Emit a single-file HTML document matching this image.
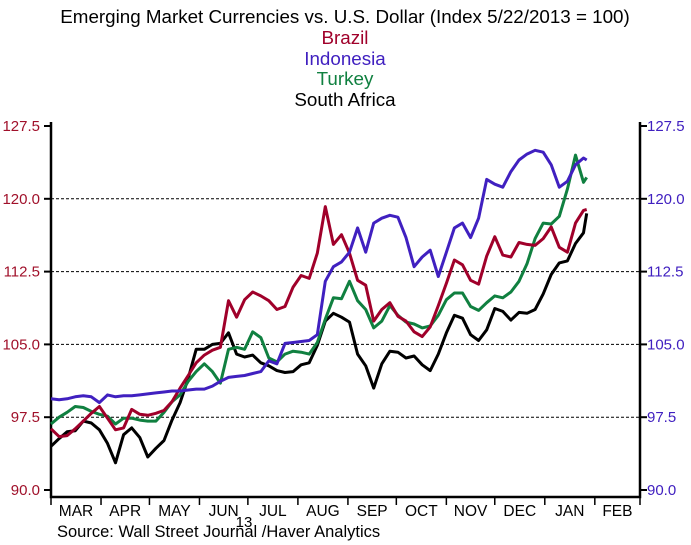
<!DOCTYPE html>
<html><head><meta charset="utf-8"><style>
body{margin:0;background:#fff;}
svg{display:block;font-family:"Liberation Sans",sans-serif;}
</style></head><body>
<svg id="chart" width="691" height="545" viewBox="0 0 691 545">
<text x="345" y="23" text-anchor="middle" font-size="18.8" fill="#000">Emerging Market Currencies vs. U.S. Dollar (Index 5/22/2013 = 100)</text>
<text x="345" y="44" text-anchor="middle" font-size="18.8" fill="#a0002a">Brazil</text>
<text x="345" y="65" text-anchor="middle" font-size="18.8" fill="#4020c0">Indonesia</text>
<text x="345" y="85" text-anchor="middle" font-size="18.8" fill="#108040">Turkey</text>
<text x="345" y="106" text-anchor="middle" font-size="18.8" fill="#000">South Africa</text>
<g id="grid"></g>
<g id="axes"></g>
<g id="series"></g>
<text x="244" y="527" text-anchor="middle" font-size="15">13</text>
<text x="57" y="537" font-size="16.5">Source:  Wall Street Journal /Haver Analytics</text>
</svg>
<script>
const yTicks=[90.0,97.5,105.0,112.5,120.0,127.5];
const yTickLabels=["90.0","97.5","105.0","112.5","120.0","127.5"];
const gridValues=[97.5,105.0,112.5,120.0];
const months=["MAR","APR","MAY","JUN","JUL","AUG","SEP","OCT","NOV","DEC","JAN","FEB"];
const monthStarts=[0,31,61,92,122,153,184,214,245,275,306,337,365];
const days=[0,5,10,15,20,25,30,35,40,45,
50,55,60,65,70,75,80,85,90,95,
100,105,110,115,120,125,130,135,140,145,
150,155,160,165,170,175,180,185,190,195,
200,205,210,215,220,225,230,235,240,245,
250,255,260,265,270,275,280,285,290,295,
300,305,310,315,320,325,330,332];
const brazil=[96.3,95.5,95.6,96.3,97.1,97.9,98.6,97.4,96.2,96.4,
98.3,97.8,97.7,97.9,98.2,99.1,100.5,101.8,103.1,103.9,
104.4,104.7,109.5,107.8,109.6,110.4,110.0,109.5,108.6,108.9,
110.9,112.1,111.8,114.4,119.2,115.3,116.3,114.4,111.6,111.1,
107.4,108.6,109.3,107.9,107.4,106.3,105.8,106.8,109.0,111.3,
113.7,113.2,111.6,111.2,114.1,116.1,114.2,114.0,115.5,115.3,
115.2,115.9,117.1,115.0,114.5,117.5,118.8,118.9];
const indonesia=[99.4,99.3,99.4,99.6,99.7,99.6,99.0,99.8,99.6,99.7,
99.7,99.8,99.9,100.0,100.1,100.2,100.2,100.3,100.4,100.4,
100.7,101.2,101.6,101.7,101.8,102.0,102.2,103.3,103.0,105.1,
105.2,105.3,105.4,106.0,111.5,113.0,113.5,114.5,117.0,114.5,
117.5,118.0,118.3,118.1,116.0,113.0,114.0,114.7,112.0,114.5,
117.0,117.5,116.0,118.0,122.0,121.5,121.2,122.8,124.0,124.6,
125.0,124.8,123.5,121.2,121.8,123.5,124.2,124.0];
const turkey=[96.8,97.5,98.0,98.6,98.5,98.1,97.8,97.6,96.8,97.4,
97.4,97.2,97.1,97.1,98.0,99.1,99.8,101.2,102.2,103.0,
102.2,101.0,104.5,104.7,104.5,106.3,105.7,103.6,103.2,104.0,
104.3,104.2,104.0,105.2,107.6,109.8,109.7,111.5,109.5,108.6,
106.7,107.4,109.0,108.0,107.3,107.1,106.7,106.9,108.0,109.6,
110.3,110.3,108.9,108.5,109.3,110.0,109.8,110.4,111.5,113.3,
115.9,117.5,117.4,118.2,121.0,124.5,121.7,122.2];
const southAfrica=[94.5,95.3,96.0,96.1,97.1,96.9,96.2,94.8,92.8,95.7,
96.4,95.4,93.4,94.3,95.1,97.2,99.0,101.5,104.5,104.5,
105.0,105.1,106.2,104.0,103.7,103.9,103.1,102.8,102.3,102.1,
102.2,102.9,103.1,104.9,107.4,108.2,107.8,107.3,104.0,102.8,
100.5,103.0,104.3,104.2,103.6,103.8,102.9,102.3,104.0,106.2,
108.0,107.7,106.0,105.4,106.5,108.7,108.4,107.5,108.3,108.2,
108.6,110.2,112.2,113.4,113.6,115.4,116.5,118.5];

const NS="http://www.w3.org/2000/svg";
const L=51,R=640,T=122,B=497;
function xs(d){return L+(d/365)*(R-L);}
function ys(v){return 490-(v-90)/37.5*364;}
function mk(tag,attrs,parent){const e=document.createElementNS(NS,tag);for(const k in attrs)e.setAttribute(k,attrs[k]);parent.appendChild(e);return e;}
const grid=document.getElementById('grid'),axes=document.getElementById('axes'),ser=document.getElementById('series');
gridValues.forEach(v=>{
  const g=mk('line',{x1:L,x2:R,y1:ys(v),y2:ys(v),stroke:'#000','stroke-width':1,'stroke-dasharray':'3,2'},grid);
  
  
});
const frame=mk('path',{d:`M${L},${T}V${B}H${R}V${T}`,fill:'none',stroke:'#000','stroke-width':2.5},axes);


yTicks.forEach((v,i)=>{
  const y=ys(v);
  mk('line',{x1:L-7,x2:L,y1:y,y2:y,stroke:'#000','stroke-width':2},axes);
  mk('line',{x1:R,x2:R+7,y1:y,y2:y,stroke:'#000','stroke-width':2},axes);
  const tl=mk('text',{x:40,y:y+5,'text-anchor':'end','font-size':15,fill:'#a0102a'},axes);
  tl.textContent=yTickLabels[i];
  
  
  const tr=mk('text',{x:647,y:y+5,'font-size':15,fill:'#4020c0'},axes);
  tr.textContent=yTickLabels[i];
  
  
});
monthStarts.forEach(d=>{const x=xs(d);mk('line',{x1:x,x2:x,y1:B,y2:B+8,stroke:'#000','stroke-width':1.5},axes);});
months.forEach((m,i)=>{
  const t=mk('text',{x:(xs(monthStarts[i])+xs(monthStarts[i+1]))/2,y:516,'text-anchor':'middle','font-size':15.5},axes);
  t.textContent=m;
  
  
});
function drawSeries(vals,color,name){
  const p=mk('polyline',{points:vals.map((v,i)=>xs(days[i]).toFixed(1)+','+ys(v).toFixed(1)).join(' '),fill:'none',stroke:color,'stroke-width':3,'stroke-linejoin':'round'},ser);
  
  
}
drawSeries(southAfrica,'#000','south-africa-line');
drawSeries(turkey,'#108040','turkey-line');
drawSeries(brazil,'#a0002a','brazil-line');
drawSeries(indonesia,'#4020c0','indonesia-line');
</script>
</body></html>
